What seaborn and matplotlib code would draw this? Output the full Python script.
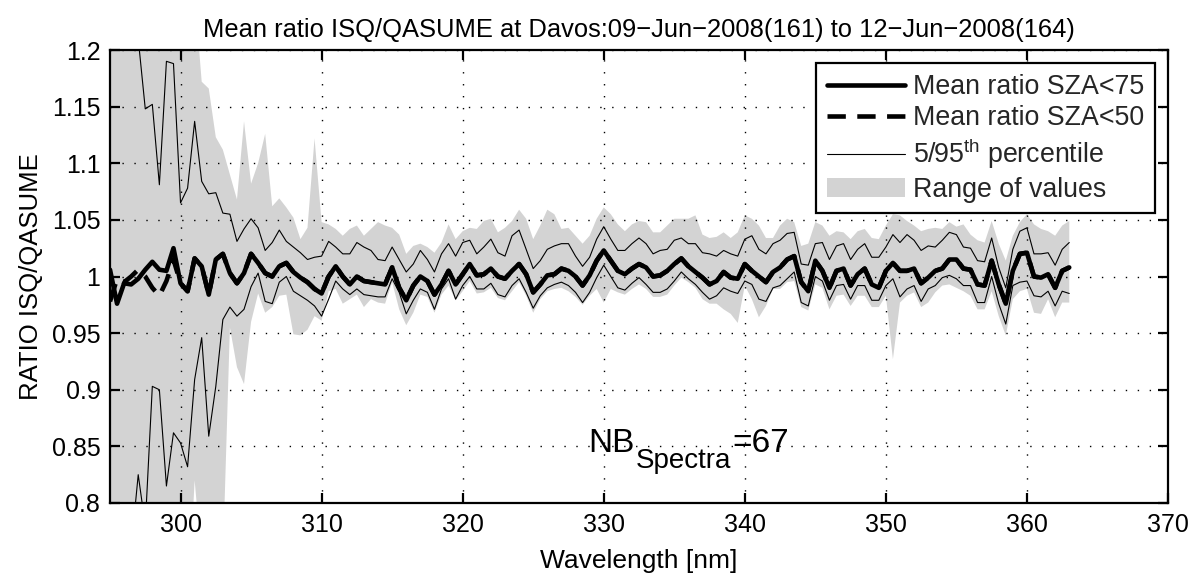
import numpy as np
import pandas as pd
import matplotlib
matplotlib.use("Agg")
import matplotlib.pyplot as plt
import seaborn as sns
from matplotlib.lines import Line2D
from matplotlib.patches import Patch
from matplotlib.ticker import FixedLocator, FixedFormatter
from matplotlib.transforms import offset_copy

# ---------------- data ----------------
wavelength = np.arange(295.0, 363.25, 0.5)

mean_sza75 = [
    1.006, 0.976, 0.994, 0.993, 0.998, 1.006, 1.013, 1.006, 1.005, 1.025,
    0.994, 0.987, 1.016, 1.009, 0.984, 1.015, 1.020, 1.003, 0.994, 1.003,
    1.020, 1.012, 1.003, 1.000, 1.009, 1.012, 1.004, 0.999, 0.995, 0.989,
    0.985, 1.000, 1.009, 1.000, 0.993, 1.000, 0.996, 0.995, 0.994, 0.993,
    1.008, 0.990, 0.979, 0.992, 1.000, 0.996, 0.984, 0.993, 1.005, 0.993,
    1.002, 1.011, 1.001, 1.002, 1.007, 1.000, 0.998, 1.005, 1.011, 1.002,
    0.986, 0.993, 1.001, 1.002, 1.007, 1.005, 1.000, 0.992, 1.001, 1.014,
    1.023, 1.014, 1.005, 1.002, 1.007, 1.011, 1.008, 1.000, 1.001, 1.005,
    1.011, 1.016, 1.009, 1.004, 0.999, 0.993, 0.996, 1.004, 0.999, 0.998,
    1.011, 1.005, 1.000, 0.995, 1.004, 1.008, 1.015, 1.018, 0.995, 0.987,
    1.014, 1.005, 0.990, 1.005, 1.007, 0.992, 1.002, 1.007, 0.993, 0.990,
    1.005, 1.012, 1.005, 1.005, 1.007, 0.994, 0.999, 1.005, 1.007, 1.015,
    1.015, 1.007, 1.006, 0.993, 0.992, 1.014, 0.993, 0.976, 1.005, 1.020,
    1.021, 1.000, 0.999, 1.002, 0.990, 1.005, 1.008,
]

# SZA<50 mean: differs from SZA<75 only at the short-wavelength end
mean_sza50_start = [0.978, 0.998, 0.995, 1.000, 1.006, 1.000, 0.990, 0.983, 0.996, 1.015]
mean_sza50 = mean_sza50_start + mean_sza75[len(mean_sza50_start):]

p95 = [
    1.300, 1.280, 1.250, 1.300, 1.210, 1.148, 1.152, 1.081, 1.190, 1.188,
    1.065, 1.078, 1.137, 1.084, 1.073, 1.074, 1.056, 1.055, 1.031, 1.042,
    1.051, 1.043, 1.023, 1.030, 1.041, 1.031, 1.026, 1.021, 1.015, 1.017,
    1.018, 1.031, 1.026, 1.020, 1.020, 1.030, 1.026, 1.023, 1.015, 1.014,
    1.026, 1.015, 1.004, 1.011, 1.023, 1.015, 1.004, 1.020, 1.029, 1.018,
    1.030, 1.032, 1.020, 1.026, 1.033, 1.021, 1.018, 1.036, 1.041, 1.024,
    1.007, 1.014, 1.024, 1.027, 1.029, 1.029, 1.018, 1.009, 1.017, 1.033,
    1.044, 1.033, 1.023, 1.023, 1.029, 1.034, 1.029, 1.020, 1.023, 1.024,
    1.032, 1.034, 1.029, 1.029, 1.021, 1.020, 1.018, 1.023, 1.020, 1.018,
    1.033, 1.036, 1.024, 1.020, 1.029, 1.032, 1.038, 1.039, 1.011, 1.010,
    1.029, 1.030, 1.015, 1.027, 1.029, 1.015, 1.024, 1.029, 1.017, 1.017,
    1.026, 1.037, 1.030, 1.037, 1.032, 1.023, 1.027, 1.026, 1.032, 1.039,
    1.037, 1.026, 1.025, 1.014, 1.013, 1.034, 1.008, 0.990, 1.024, 1.040,
    1.043, 1.020, 1.020, 1.021, 1.010, 1.024, 1.030,
]

p5 = [
    0.700, 0.720, 0.750, 0.760, 0.825, 0.780, 0.903, 0.900, 0.815, 0.862,
    0.853, 0.832, 0.909, 0.946, 0.859, 0.903, 0.962, 0.973, 0.965, 0.971,
    0.991, 1.003, 0.978, 0.976, 0.995, 1.000, 0.987, 0.983, 0.979, 0.974,
    0.965, 0.980, 0.996, 0.989, 0.984, 0.989, 0.984, 0.983, 0.982, 0.982,
    0.998, 0.986, 0.967, 0.979, 0.989, 0.986, 0.971, 0.989, 0.998, 0.980,
    0.992, 1.000, 0.989, 0.989, 0.994, 0.984, 0.982, 0.992, 0.998, 0.986,
    0.972, 0.983, 0.990, 0.993, 0.995, 0.992, 0.986, 0.977, 0.986, 0.999,
    1.010, 1.000, 0.990, 0.988, 0.994, 0.999, 0.993, 0.986, 0.986, 0.989,
    0.996, 1.004, 0.998, 0.993, 0.986, 0.980, 0.983, 0.990, 0.987, 0.985,
    0.996, 0.993, 0.980, 0.978, 0.990, 0.992, 0.998, 1.004, 0.977, 0.974,
    1.000, 0.996, 0.979, 0.992, 0.993, 0.980, 0.992, 0.992, 0.979, 0.979,
    0.992, 0.998, 0.982, 0.989, 0.992, 0.978, 0.989, 0.992, 0.999, 1.001,
    0.998, 0.992, 0.992, 0.977, 0.977, 1.000, 0.976, 0.958, 0.992, 0.995,
    0.996, 0.983, 0.982, 0.987, 0.974, 0.987, 0.985,
]

range_max = [
    1.400, 1.380, 1.420, 1.450, 1.400, 1.380, 1.360, 1.400, 1.350, 1.330,
    1.300, 1.280, 1.250, 1.172, 1.166, 1.123, 1.112, 1.090, 1.068, 1.137,
    1.082, 1.100, 1.126, 1.062, 1.069, 1.061, 1.052, 1.033, 1.043, 1.122,
    1.048, 1.046, 1.042, 1.036, 1.042, 1.045, 1.036, 1.042, 1.048, 1.045,
    1.043, 1.037, 1.020, 1.027, 1.029, 1.026, 1.021, 1.030, 1.046, 1.033,
    1.040, 1.043, 1.042, 1.049, 1.051, 1.039, 1.043, 1.049, 1.059, 1.051,
    1.033, 1.045, 1.059, 1.055, 1.042, 1.043, 1.036, 1.029, 1.036, 1.051,
    1.061, 1.055, 1.046, 1.040, 1.046, 1.049, 1.048, 1.039, 1.039, 1.045,
    1.051, 1.051, 1.051, 1.054, 1.037, 1.034, 1.035, 1.039, 1.034, 1.039,
    1.054, 1.051, 1.045, 1.034, 1.034, 1.045, 1.051, 1.048, 1.027, 1.029,
    1.048, 1.045, 1.036, 1.040, 1.039, 1.033, 1.040, 1.042, 1.034, 1.033,
    1.045, 1.055, 1.054, 1.049, 1.045, 1.040, 1.042, 1.043, 1.042, 1.048,
    1.044, 1.046, 1.037, 1.032, 1.030, 1.049, 1.029, 1.014, 1.036, 1.048,
    1.055, 1.046, 1.042, 1.040, 1.036, 1.045, 1.049,
]

range_min = [
    0.600, 0.620, 0.580, 0.600, 0.620, 0.600, 0.620, 0.600, 0.580, 0.620,
    0.650, 0.700, 0.820, 0.750, 0.700, 0.700, 0.750, 0.955, 0.920, 0.905,
    0.960, 0.985, 0.968, 0.973, 0.983, 0.984, 0.949, 0.948, 0.953, 0.965,
    0.961, 0.987, 0.989, 0.976, 0.980, 0.984, 0.973, 0.980, 0.977, 0.976,
    0.995, 0.971, 0.957, 0.968, 0.984, 0.982, 0.968, 0.984, 0.992, 0.979,
    0.987, 0.996, 0.985, 0.986, 0.990, 0.981, 0.979, 0.987, 0.995, 0.983,
    0.968, 0.980, 0.987, 0.989, 0.990, 0.987, 0.982, 0.975, 0.983, 0.989,
    0.977, 0.989, 0.986, 0.984, 0.989, 0.993, 0.989, 0.982, 0.982, 0.984,
    0.992, 0.999, 0.995, 0.990, 0.980, 0.976, 0.976, 0.971, 0.967, 0.959,
    0.992, 0.980, 0.964, 0.974, 0.989, 0.989, 0.995, 0.996, 0.973, 0.970,
    0.993, 0.990, 0.971, 0.983, 0.984, 0.974, 0.983, 0.983, 0.973, 0.973,
    0.983, 0.927, 0.977, 0.983, 0.986, 0.973, 0.977, 0.986, 0.992, 0.993,
    0.990, 0.987, 0.983, 0.971, 0.971, 0.987, 0.965, 0.948, 0.980, 0.987,
    0.989, 0.968, 0.967, 0.980, 0.964, 0.977, 0.977,
]

x_ticks = [300, 310, 320, 330, 340, 350, 360, 370]
y_ticks = [0.8, 0.85, 0.9, 0.95, 1.0, 1.05, 1.1, 1.15, 1.2]
y_tick_labels = ["0.8", "0.85", "0.9", "0.95", "1", "1.05", "1.1", "1.15", "1.2"]

title_text = "Mean ratio ISQ/QASUME at Davos:09\u2212Jun\u22122008(161) to 12\u2212Jun\u22122008(164)"
legend_labels = ["Mean ratio SZA<75", "Mean ratio SZA<50",
                 r"5/95$^{\mathrm{th}}$ percentile", "Range of values"]
nb_main, nb_sub, nb_tail = "NB", "Spectra", "=67"

df = pd.DataFrame({
    "wl": wavelength,
    "m75": mean_sza75,
    "m50": mean_sza50,
    "p95": p95,
    "p5": p5,
    "vmax": range_max,
    "vmin": range_min,
})

# ---------------- style ----------------
sns.set_theme(style="white")
plt.rcParams["font.family"] = ["Liberation Sans", "DejaVu Sans"]
plt.rcParams["mathtext.fontset"] = "custom"
plt.rcParams["mathtext.rm"] = "Liberation Sans"
plt.rcParams["mathtext.it"] = "Liberation Sans:italic"
plt.rcParams["mathtext.bf"] = "Liberation Sans:bold"
plt.rcParams["axes.unicode_minus"] = True

fig = plt.figure(figsize=(12.01, 5.75), dpi=100)
ax = fig.add_axes([110 / 1201, 1 - 503 / 575, (1168 - 110) / 1201, (503 - 50) / 575])

fill_color = "#d3d3d3"
ax.fill_between(df["wl"], df["vmin"], df["vmax"], color=fill_color, linewidth=0, zorder=1)

sns.lineplot(data=df, x="wl", y="p95", ax=ax, color="black", linewidth=0.8, zorder=3, errorbar=None)
sns.lineplot(data=df, x="wl", y="p5", ax=ax, color="black", linewidth=0.8, zorder=3, errorbar=None)
sns.lineplot(data=df, x="wl", y="m75", ax=ax, color="black", linewidth=3.3, zorder=4, errorbar=None)
sns.lineplot(data=df, x="wl", y="m50", ax=ax, color="black", linewidth=3.3, zorder=5,
             errorbar=None, linestyle=(0, (4, 2.5)))

ax.set_xlim(295, 370)
ax.set_ylim(0.8, 1.2)
ax.xaxis.set_major_locator(FixedLocator(x_ticks))
ax.yaxis.set_major_locator(FixedLocator(y_ticks))
ax.yaxis.set_major_formatter(FixedFormatter(y_tick_labels))

ax.set_axisbelow(False)
ax.grid(True, which="major", color="black", linestyle=(0, (1, 7.6)), linewidth=1.0, zorder=2.5)

for s in ax.spines.values():
    s.set_visible(True)
    s.set_color("black")
    s.set_linewidth(1.6)
    s.set_zorder(6)

ax.tick_params(axis="both", which="major", direction="in", length=7, width=1.6,
               top=True, right=True, bottom=True, left=True,
               labelsize=18, colors="black", pad=7)

ax.set_xlabel("Wavelength [nm]", fontsize=19, color="black", labelpad=9)
ax.set_ylabel("RATIO ISQ/QASUME", fontsize=18.5, color="black", labelpad=6)
ax.set_title(title_text, fontsize=18.4, color="black", pad=9)

# annotation NB_Spectra=67 built from pieces (large subscript, MATLAB-like)
nb_x, nb_y = 328.9, 0.845
t1 = ax.text(nb_x, nb_y, nb_main, fontsize=24, color="black", ha="left", va="baseline")
fig.canvas.draw()
renderer = fig.canvas.get_renderer()
w1 = t1.get_window_extent(renderer).width
t2 = ax.text(nb_x, nb_y, nb_sub, fontsize=20, color="black", ha="left", va="baseline",
             transform=offset_copy(ax.transData, fig=fig, x=w1 + 1, y=-16, units="dots"))
w2 = t2.get_window_extent(renderer).width
ax.text(nb_x, nb_y, nb_tail, fontsize=24, color="black", ha="left", va="baseline",
        transform=offset_copy(ax.transData, fig=fig, x=w1 + w2 + 2, y=0, units="dots"))

handles = [
    Line2D([0], [0], color="black", linewidth=3.3),
    Line2D([0], [0], color="black", linewidth=3.3, linestyle=(0, (4, 2.5))),
    Line2D([0], [0], color="black", linewidth=0.8),
    Patch(facecolor=fill_color, edgecolor="none"),
]
leg = ax.legend(handles, legend_labels, loc="upper right", fontsize=19.3,
                frameon=True, fancybox=False, framealpha=1, edgecolor="black",
                handlelength=2.9, handletextpad=0.3, borderaxespad=0.5,
                labelspacing=0.2, borderpad=0.4)
leg.get_frame().set_linewidth(1.6)
leg.set_zorder(10)

fig.savefig("out.png", dpi=100, facecolor="white")
